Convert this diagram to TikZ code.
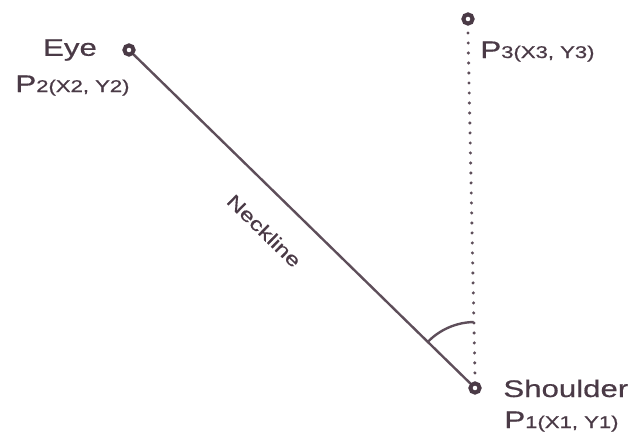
\documentclass[tikz,border=0pt]{standalone}
\usepackage{fontspec}
\setmainfont{Liberation Sans}[FakeStretch=1.3, FakeBold=0.6]
\usetikzlibrary{positioning}
\definecolor{inkdark}{HTML}{4A3A46}
\definecolor{inkline}{HTML}{5E4E5A}
\tikzset{
    joint/.style={circle, draw=inkdark, line width=2pt, minimum size=4.6pt, inner sep=0pt},
    partlabel/.style={inner sep=0pt, text=inkdark, font=\fontsize{12}{14}\selectfont},
    pointlabel/.style={inner sep=0pt, anchor=base west, text=inkdark, font=\fontsize{12}{14}\selectfont},
    neck/.style={draw=inkline, line width=1.2pt},
    vertical/.style={draw=inkline, line width=1.7pt, line cap=round, dash pattern=on 0pt off 5pt}
}
\newcommand{\ptsub}[1]{{\fontsize{8.5}{10}\selectfont #1}}

\begin{document}
\begin{tikzpicture}[x=0.5pt, y=0.5pt]
    \useasboundingbox (0, 0) rectangle (629, 441);

    % Joint points
    \node[joint] (eye) at (129, 391) {};
    \node[joint] (top) at (468, 422) {};
    \node[joint] (shoulder) at (475, 53) {};

    % Labels
    \node[partlabel] (eyename) at (70, 391) {Eye};
    \node[pointlabel] (eyept) at (15, 349) {P\ptsub{2(X2, Y2)}};
    \node[pointlabel] (toppt) at (480, 383) {P\ptsub{3(X3, Y3)}};
    \node[pointlabel] (shouldername) at (503, 44) {Shoulder};
    \node[pointlabel] (shoulderpt) at (504, 13) {P\ptsub{1(X1, Y1)}};

    % Neckline and vertical reference
    \draw[neck] (eye) -- (shoulder) node[pos=0.46, sloped, below=10pt, text=inkdark, font=\fontsize{9.5}{11}\selectfont] {Neckline};
    \draw[vertical] ([yshift=-7pt]top.center) -- ([yshift=6pt]shoulder.center);

    % Angle between them
    \draw[neck] (shoulder.center) ++(135.67:66) arc[start angle=135.67, end angle=91.09, radius=66];
\end{tikzpicture}
\end{document}
